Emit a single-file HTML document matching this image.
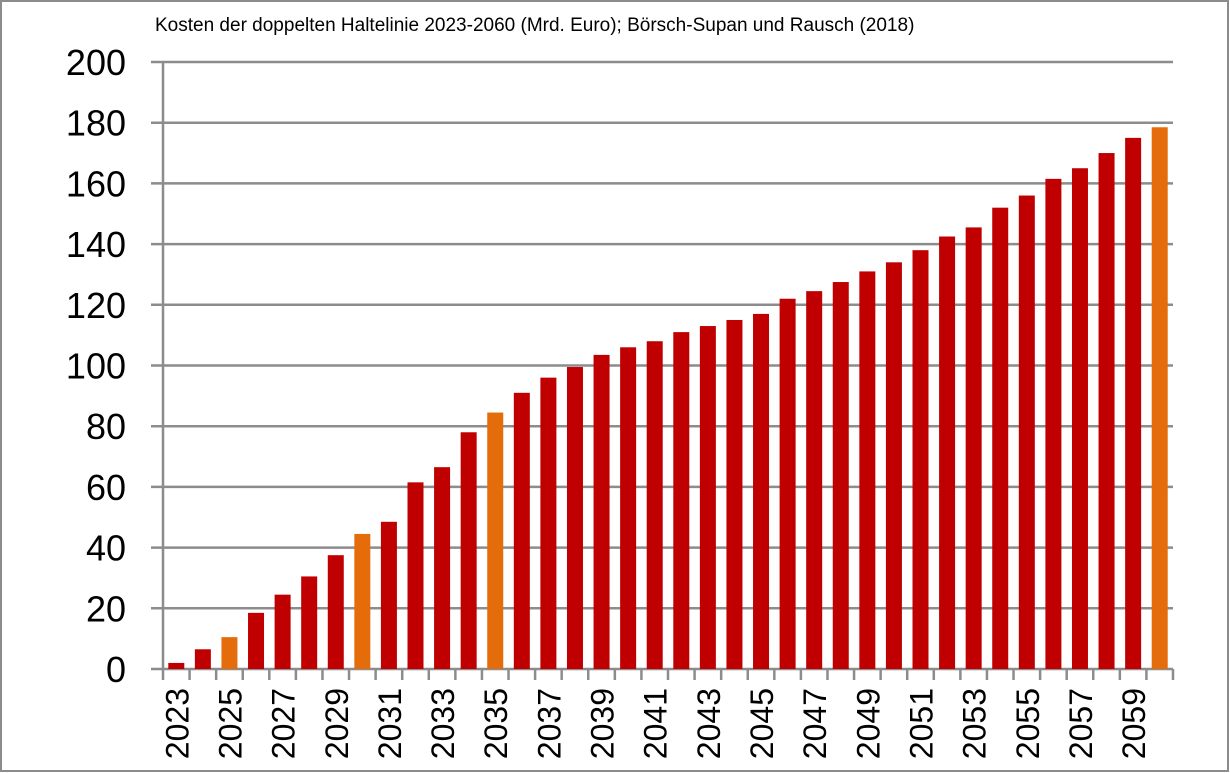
<!DOCTYPE html>
<html><head><meta charset="utf-8"><style>
html,body{margin:0;padding:0;background:#fff;}
svg{display:block;font-family:"Liberation Sans",sans-serif;}
</style></head><body>
<svg width="1230" height="773" viewBox="0 0 1230 773">
<rect x="1" y="1" width="1227" height="770" fill="#fff" stroke="#8c8c8c" stroke-width="2"/>
<text x="155" y="31" font-size="19" fill="#000">Kosten der doppelten Haltelinie 2023-2060 (Mrd. Euro); Börsch-Supan und Rausch (2018)</text>
<g id="grid"></g><g id="bars"></g><g id="axes"></g>
</svg>
<script>
const years=[2023,2024,2025,2026,2027,2028,2029,2030,2031,2032,2033,2034,2035,2036,2037,2038,2039,2040,2041,2042,2043,2044,2045,2046,2047,2048,2049,2050,2051,2052,2053,2054,2055,2056,2057,2058,2059,2060];
const values=[2,6.5,10.5,18.5,24.5,30.5,37.5,44.5,48.5,61.5,66.5,78,84.5,91,96,99.5,103.5,106,108,111,113,115,117,122,124.5,127.5,131,134,138,142.5,145.5,152,156,161.5,165,170,175,178.5];
const highlightYears=[2025,2030,2035,2060];
const yTicks=[0,20,40,60,80,100,120,140,160,180,200];
const NS="http://www.w3.org/2000/svg";
const X0=163,X1=1173,Y0=669,Y1=62,YMAX=200;
const step=(X1-X0)/years.length;
const y=v=>Y0-(v/YMAX)*(Y0-Y1);
const xc=i=>X0+step*(i+0.5);
function mk(t,a,p){const e=document.createElementNS(NS,t);for(const k in a)e.setAttribute(k,a[k]);p.appendChild(e);return e;}
const grid=document.getElementById('grid'),bars=document.getElementById('bars'),axes=document.getElementById('axes');
yTicks.forEach(t=>{
  const l=mk('line',{x1:151,x2:X1,y1:y(t),y2:y(t),stroke:'#8c8c8c','stroke-width':2.5},grid);
  
  
  const tx=mk('text',{x:126,y:y(t)+13,'font-size':36,'text-anchor':'end',fill:'#000'},axes);
  tx.textContent=t;
  
  
});
values.forEach((v,i)=>{
  const w=16;
  const r=mk('rect',{x:xc(i)-w/2,y:y(v),width:w,height:Y0-y(v),fill:highlightYears.includes(years[i])?'#e46c0a':'#c00000'},bars);
  
  
});
const ya=mk('line',{x1:X0,x2:X0,y1:Y1,y2:Y0,stroke:'#8c8c8c','stroke-width':2.5},axes);


for(let i=0;i<=years.length;i++){
  const xx=X0+step*i;
  const tk=mk('line',{x1:xx,x2:xx,y1:Y0,y2:Y0+11,stroke:'#8c8c8c','stroke-width':2.5},axes);
  
  
}
years.forEach((yr,i)=>{
  if(i%2)return;
  const cx=xc(i)+12,cy=688;
  const t=mk('text',{x:cx,y:cy,'font-size':32,'text-anchor':'end',fill:'#000',transform:`rotate(-90 ${cx} ${cy})`},axes);
  t.textContent=yr;
  
  
});
</script>
</body></html>
